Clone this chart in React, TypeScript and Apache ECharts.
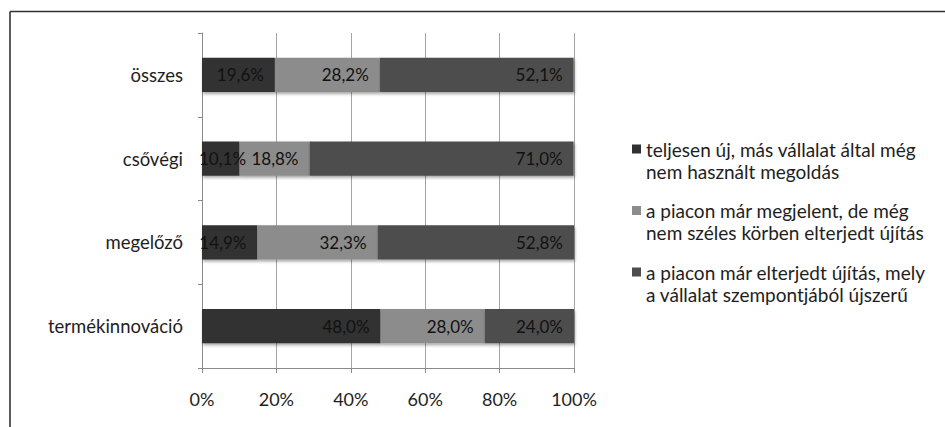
import React, { useEffect, useRef } from "react";
import * as echarts from "echarts";

const categories = ["összes", "csővégi", "megelőző", "termékinnováció"];
const seriesNames = [
  "teljesen új, más vállalat által még\nnem használt megoldás",
  "a piacon már megjelent, de még\nnem széles körben elterjedt újítás",
  "a piacon már elterjedt újítás, mely\na vállalat szempontjából újszerű",
];
const newValues = [19.6, 10.1, 14.9, 48.0];
const emergingValues = [28.2, 18.8, 32.3, 28.0];
const spreadValues = [52.1, 71.0, 52.8, 24.0];
const xTicks = [0, 20, 40, 60, 80, 100];

const colors = ["#303030", "#8c8c8c", "#4e4e4e"];
const FONT = "Lato, 'Open Sans', sans-serif";
// legend marker: 9x9 square aligned with the first text line of a 44px-tall item
const LEGEND_ICON =
  "path://M0,0h0.01v0.01h-0.01z M0,6.5h9v9h-9z M0,43.99h0.01v0.01h-0.01z";

export default function App() {
  const ref = useRef<HTMLDivElement>(null);
  useEffect(() => {
    if (!ref.current) return;
    const chart = echarts.init(ref.current, undefined, { renderer: "svg" });
    const all = [newValues, emergingValues, spreadValues];
    const fmt = (v: number) => v.toFixed(1).replace(".", ",") + "%";
    chart.setOption({
      animation: false,
      textStyle: { fontFamily: FONT },
      grid: { left: 202, right: 371, top: 33, bottom: 59, containLabel: false },
      xAxis: {
        type: "value",
        min: xTicks[0],
        max: xTicks[xTicks.length - 1],
        interval: 20,
        axisLine: { show: true, lineStyle: { color: "#8a8a8a" } },
        axisTick: { show: true, length: 5, lineStyle: { color: "#8a8a8a" } },
        splitLine: { show: true, lineStyle: { color: "#a4a4a4", width: 1 } },
        axisLabel: {
          formatter: (v: number) => v + "%",
          color: "#1e1e1e",
          fontSize: 18,
          margin: 22,
          fontFamily: FONT,
        },
      },
      yAxis: {
        type: "category",
        data: categories,
        inverse: true,
        axisLine: { show: true, lineStyle: { color: "#8a8a8a" } },
        axisTick: { show: true, length: 4, lineStyle: { color: "#8a8a8a" } },
        axisLabel: { color: "#1e1e1e", fontSize: 18.5, margin: 19, fontFamily: FONT },
      },
      legend: {
        orient: "vertical",
        left: 627,
        top: 133,
        icon: LEGEND_ICON,
        itemWidth: 9,
        itemHeight: 44,
        itemGap: 17.5,
        data: seriesNames,
        textStyle: { color: "#1e1e1e", fontSize: 19, lineHeight: 22, fontFamily: FONT },
      },
      series: seriesNames.map((name, i) => ({
        name,
        type: "bar",
        stack: "total",
        barWidth: "41%",
        data: all[i].map((v) =>
          v < 12
            ? { value: v, label: { position: "insideLeft", distance: -3 } }
            : v
        ),
        itemStyle: {
          color: colors[i],
          shadowColor: "rgba(0,0,0,0.35)",
          shadowBlur: 3,
          shadowOffsetX: 1,
          shadowOffsetY: 2,
        },
        label: {
          show: true,
          position: "insideRight",
          distance: 11,
          color: "#111",
          fontSize: 17,
          fontFamily: FONT,
          formatter: (p: any) => fmt(p.value),
        },
      })),
      graphic: [
        {
          type: "line",
          shape: { x1: 10, y1: 11.5, x2: 945, y2: 11.5 },
          style: { stroke: "#333", lineWidth: 1.6 },
        },
        {
          type: "line",
          shape: { x1: 10, y1: 11.5, x2: 10, y2: 427 },
          style: { stroke: "#333", lineWidth: 1.6 },
        },
      ],
    });
    return () => chart.dispose();
  }, []);
  return (
    <div
      ref={ref}
      style={{ width: 945, height: 427, position: "absolute", left: 0, top: 0, background: "#fff" }}
    />
  );
}
